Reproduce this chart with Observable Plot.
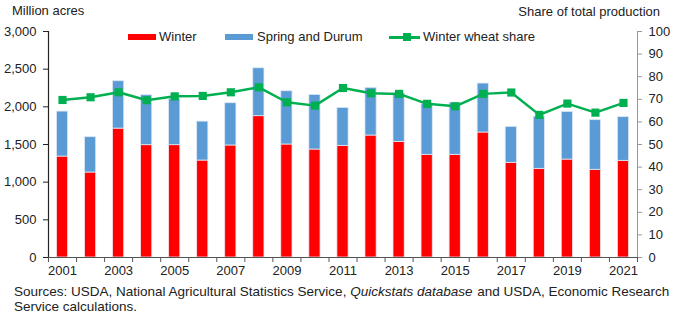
<!DOCTYPE html>
<html>
<head>
<meta charset="utf-8">
<script src="https://cdn.jsdelivr.net/npm/d3@7"></script>
<script src="https://cdn.jsdelivr.net/npm/@observablehq/plot@0.6"></script>
<style>
  body { margin: 0; background: #fff; font-family: "Liberation Sans", Arial, sans-serif; color: #222; }
  #wrap { position: relative; width: 680px; height: 321px; }
  .lbl { position: absolute; font-size: 13px; white-space: nowrap; line-height: 15px; }
  .sw { position: absolute; }
  .cap { position: absolute; left: 14px; font-size: 13.5px; line-height: 15px; white-space: nowrap; }
</style>
</head>
<body>
<div id="wrap">
  <div id="chart"></div>
  <div class="lbl" style="left:12px; top:3px;">Million acres</div>
  <div class="lbl" style="right:20px; top:4px;">Share of total production</div>
  <div class="sw" style="left:128px; top:34px; width:28px; height:6px; background:#ff0000;"></div>
  <div class="lbl" style="left:159px; top:29px;">Winter</div>
  <div class="sw" style="left:225px; top:34px; width:28px; height:6px; background:#5b9bd5;"></div>
  <div class="lbl" style="left:257px; top:29px;">Spring and Durum</div>
  <div class="sw" style="left:389px; top:36px; width:31px; height:2.5px; background:#00b050;"></div>
  <div class="sw" style="left:403px; top:33px; width:8px; height:8px; background:#00b050;"></div>
  <div class="lbl" style="left:423px; top:29px;">Winter wheat share</div>
  <div class="cap" style="top:284px;">Sources: USDA, National Agricultural Statistics Service, <i style="margin-right:1px;">Quickstats database</i> and USDA, Economic Research</div>
  <div class="cap" style="top:299px;">Service calculations.</div>
</div>
<script>
const years = [2001,2002,2003,2004,2005,2006,2007,2008,2009,2010,2011,2012,2013,2014,2015,2016,2017,2018,2019,2020,2021];
const winter = [1340,1128,1711,1491,1491,1287,1487,1876,1500,1433,1482,1619,1535,1363,1363,1659,1257,1177,1300,1164,1283];
const springDurum = [597,469,629,663,610,517,561,636,707,725,504,633,645,677,692,650,477,693,633,659,580];
const winterShare = [69.7,70.9,73.1,69.6,71.3,71.5,73.1,75.3,68.7,67.2,75.0,72.7,72.4,68.0,66.9,72.4,73.0,63.1,68.1,64.1,68.4];
const leftTicks = [0,500,1000,1500,2000,2500,3000];
const rightTicks = [0,10,20,30,40,50,60,70,80,90,100];
const xLabelYears = [2001,2003,2005,2007,2009,2011,2013,2015,2017,2019,2021];

const K = 30; // share (0-100) mapped onto acres axis (0-3000)
const rows = years.map((y, i) => ({year: y, winter: winter[i], spring: springDurum[i], share: winterShare[i]}));
const boundaries = d3.range(years[0] - 0.5, years[years.length - 1] + 1, 1);
const half = 0.2;

const chart = Plot.plot({
  width: 680,
  height: 280,
  marginTop: 31,
  marginBottom: 23,
  marginLeft: 48,
  marginRight: 43,
  style: {fontFamily: "Liberation Sans, Arial, sans-serif", fontSize: "13px", color: "#222", background: "#fff"},
  x: {type: "linear", domain: [years[0] - 0.5, years[years.length - 1] + 0.5]},
  y: {domain: [0, 3000]},
  marks: [
    Plot.rectY(rows, {x1: d => d.year - half, x2: d => d.year + half, y1: 0, y2: "winter", fill: "#ff0000", stroke: "#f2e6ea", strokeWidth: 0.8}),
    Plot.rectY(rows, {x1: d => d.year - half, x2: d => d.year + half, y1: "winter", y2: d => d.winter + d.spring, fill: "#5b9bd5", stroke: "#dde8f5", strokeWidth: 0.8}),
    Plot.line(rows, {x: "year", y: d => d.share * K, stroke: "#00b050", strokeWidth: 2.5}),
    Plot.dot(rows, {x: "year", y: d => d.share * K, symbol: "square", r: 4.6, fill: "#00b050"}),
    Plot.ruleY([0], {stroke: "#555", strokeWidth: 1}),
    Plot.ruleX([years[0] - 0.5], {y1: 0, y2: 3000, stroke: "#222", strokeWidth: 1.2}),
    Plot.ruleX([years[years.length - 1] + 0.5], {y1: 0, y2: 3000, stroke: "#999", strokeWidth: 1}),
    Plot.axisY({anchor: "left", ticks: leftTicks, tickFormat: d3.format(","), tickSize: 5, tickPadding: 7, label: null, stroke: "#222"}),
    Plot.axisY({anchor: "right", ticks: rightTicks.map(v => v * K), tickFormat: d => String(d / K), tickSize: 4, tickPadding: 7, label: null, stroke: "#999", color: "#222"}),
    Plot.axisX({ticks: boundaries, tickFormat: () => "", tickSize: 5, label: null, stroke: "#555"}),
    Plot.axisX({ticks: xLabelYears, tickFormat: d => String(d), tickSize: 0, tickPadding: 8, label: null})
  ]
});
document.getElementById("chart").appendChild(chart);
</script>
</body>
</html>
